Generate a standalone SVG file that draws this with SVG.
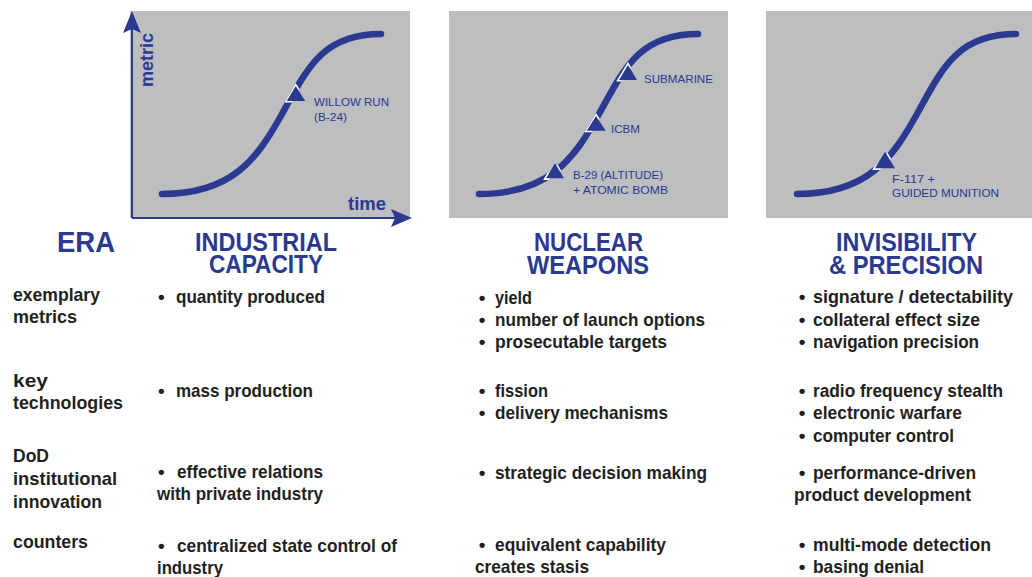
<svg xmlns="http://www.w3.org/2000/svg" xmlns:xlink="http://www.w3.org/1999/xlink" width="1032" height="577" viewBox="0 0 1032 577">
<style>
text{font-family:"Liberation Sans",Arial,sans-serif}
.bg{fill:#BCBEC0}
.crv{fill:none;stroke:#2B3990;stroke-width:6.5;stroke-linecap:round}
.gap{fill:none;stroke:#ffffff;stroke-width:3.2;stroke-linejoin:miter}
.tri{fill:#2B3990}
.pl{font-size:11.5px;fill:#2B3990}
.ax{font-size:19px;font-weight:bold;fill:#2B3990}
.axl{stroke:#2B3990;stroke-width:2;fill:none}
.axh{fill:#2B3990}
.hd{font-size:25px;font-weight:bold;fill:#2B3990}
.era{font-size:30px;font-weight:bold;fill:#2B3990}
.rl{font-size:19px;font-weight:bold;fill:#231F20}
.bt{font-size:19px;font-weight:bold;fill:#231F20}
</style>
<defs>
<path id="curve" d="M0,0 C70,0 95,-35 120,-80 C145,-125 160,-160 219,-160"/>
<mask id="mk" maskUnits="userSpaceOnUse" x="-20" y="-200" width="270" height="230">
<use xlink:href="#curve" fill="none" stroke="#ffffff" stroke-width="6.5" stroke-linecap="round"/>
</mask>
</defs>

<g id="panel-industrial">
<rect class="bg" x="130" y="11" width="280" height="207"/>
<g transform="translate(162,194)">
<use xlink:href="#curve" class="crv"/>
<polygon class="gap" mask="url(#mk)" points="133.7,-108 124.7,-93 143.3,-93"/>
<polygon class="tri" points="133.7,-108 124.7,-93 143.3,-93"/>
</g>
<text class="pl"><tspan x="314" y="106" textLength="75" lengthAdjust="spacingAndGlyphs">WILLOW RUN</tspan><tspan x="314" y="121" textLength="33" lengthAdjust="spacingAndGlyphs">(B-24)</tspan></text>
</g>

<g id="axes">
<path class="axl" d="M132,218 V28 M132,218 H398"/>
<polygon class="axh" points="132,11 141,33 132,29 123,33"/>
<polygon class="axh" points="412,218 391,227 395,218 391,209"/>
<text class="ax" transform="translate(153,87) rotate(-90)" font-size="18" textLength="54" lengthAdjust="spacingAndGlyphs">metric</text>
<text class="ax" x="348" y="210" textLength="38" lengthAdjust="spacingAndGlyphs">time</text>
</g>

<g id="panel-nuclear">
<rect class="bg" x="449" y="11" width="279" height="207"/>
<g transform="translate(479,194)">
<use xlink:href="#curve" class="crv"/>
<polygon class="gap" mask="url(#mk)" points="76,-30.7 67,-15.7 85,-15.7"/>
<polygon class="tri" points="76,-30.7 67,-15.7 85,-15.7"/>
<polygon class="gap" mask="url(#mk)" points="117,-78 107.7,-63.3 126.7,-63.3"/>
<polygon class="tri" points="117,-78 107.7,-63.3 126.7,-63.3"/>
<polygon class="gap" mask="url(#mk)" points="149,-129 140,-114 158,-114"/>
<polygon class="tri" points="149,-129 140,-114 158,-114"/>
</g>
<text class="pl" x="644" y="83" textLength="69" lengthAdjust="spacingAndGlyphs">SUBMARINE</text>
<text class="pl" x="611" y="133" textLength="29" lengthAdjust="spacingAndGlyphs">ICBM</text>
<text class="pl"><tspan x="573" y="179" textLength="90" lengthAdjust="spacingAndGlyphs">B-29 (ALTITUDE)</tspan><tspan x="573" y="194" textLength="95" lengthAdjust="spacingAndGlyphs">+ ATOMIC BOMB</tspan></text>
</g>

<g id="panel-invisibility">
<rect class="bg" x="766" y="11" width="266" height="207"/>
<g transform="translate(797,194)">
<use xlink:href="#curve" class="crv"/>
<polygon class="gap" mask="url(#mk)" points="88,-42.3 78,-25.7 98,-25.7"/>
<polygon class="tri" points="88,-42.3 78,-25.7 98,-25.7"/>
</g>
<text class="pl"><tspan x="892" y="183" textLength="43" lengthAdjust="spacingAndGlyphs">F-117 +</tspan><tspan x="892" y="197" textLength="107" lengthAdjust="spacingAndGlyphs">GUIDED MUNITION</tspan></text>
</g>

<g id="headings">
<text class="era" x="57" y="252" textLength="58" lengthAdjust="spacingAndGlyphs">ERA</text>
<text class="hd"><tspan x="195" y="251" textLength="142" lengthAdjust="spacingAndGlyphs">INDUSTRIAL</tspan><tspan x="209" y="273" textLength="114" lengthAdjust="spacingAndGlyphs">CAPACITY</tspan></text>
<text class="hd"><tspan x="534" y="251" textLength="109" lengthAdjust="spacingAndGlyphs">NUCLEAR</tspan><tspan x="527" y="274" textLength="122" lengthAdjust="spacingAndGlyphs">WEAPONS</tspan></text>
<text class="hd"><tspan x="836" y="251" textLength="141" lengthAdjust="spacingAndGlyphs">INVISIBILITY</tspan><tspan x="829" y="274" textLength="154" lengthAdjust="spacingAndGlyphs">&amp; PRECISION</tspan></text>
</g>

<g id="row-labels">
<text class="rl" x="13" y="301" textLength="87" lengthAdjust="spacingAndGlyphs">exemplary</text>
<text class="rl" x="13" y="323" textLength="64" lengthAdjust="spacingAndGlyphs">metrics</text>
<text class="rl" x="13" y="387" textLength="35" lengthAdjust="spacingAndGlyphs">key</text>
<text class="rl" x="13" y="409" textLength="110" lengthAdjust="spacingAndGlyphs">technologies</text>
<text class="rl" x="13" y="462" textLength="36" lengthAdjust="spacingAndGlyphs">DoD</text>
<text class="rl" x="13" y="485" textLength="104" lengthAdjust="spacingAndGlyphs">institutional</text>
<text class="rl" x="13" y="508" textLength="89" lengthAdjust="spacingAndGlyphs">innovation</text>
<text class="rl" x="13" y="548" textLength="75" lengthAdjust="spacingAndGlyphs">counters</text>
</g>

<g id="col-industrial">
<text class="bt" x="158" y="303">•</text>
<text class="bt" x="176" y="303" textLength="149" lengthAdjust="spacingAndGlyphs">quantity produced</text>
<text class="bt" x="158" y="397">•</text>
<text class="bt" x="176" y="397" textLength="137" lengthAdjust="spacingAndGlyphs">mass production</text>
<text class="bt" x="158" y="478">•</text>
<text class="bt" x="177" y="478" textLength="146" lengthAdjust="spacingAndGlyphs">effective relations</text>
<text class="bt" x="157" y="500" textLength="166" lengthAdjust="spacingAndGlyphs">with private industry</text>
<text class="bt" x="158" y="552">•</text>
<text class="bt" x="177" y="552" textLength="220" lengthAdjust="spacingAndGlyphs">centralized state control of</text>
<text class="bt" x="157" y="574" textLength="66" lengthAdjust="spacingAndGlyphs">industry</text>
</g>

<g id="col-nuclear">
<text class="bt" x="478.7" y="304">•</text>
<text class="bt" x="495" y="304" textLength="37" lengthAdjust="spacingAndGlyphs">yield</text>
<text class="bt" x="478.7" y="326">•</text>
<text class="bt" x="495" y="326" textLength="210" lengthAdjust="spacingAndGlyphs">number of launch options</text>
<text class="bt" x="478.7" y="348">•</text>
<text class="bt" x="495" y="348" textLength="172" lengthAdjust="spacingAndGlyphs">prosecutable targets</text>
<text class="bt" x="478.7" y="397">•</text>
<text class="bt" x="495" y="397" textLength="53" lengthAdjust="spacingAndGlyphs">fission</text>
<text class="bt" x="478.7" y="419">•</text>
<text class="bt" x="495" y="419" textLength="173" lengthAdjust="spacingAndGlyphs">delivery mechanisms</text>
<text class="bt" x="478.7" y="479">•</text>
<text class="bt" x="495" y="479" textLength="212" lengthAdjust="spacingAndGlyphs">strategic decision making</text>
<text class="bt" x="478.7" y="551">•</text>
<text class="bt" x="495" y="551" textLength="171" lengthAdjust="spacingAndGlyphs">equivalent capability</text>
<text class="bt" x="475" y="573" textLength="114" lengthAdjust="spacingAndGlyphs">creates stasis</text>
</g>

<g id="col-invisibility">
<text class="bt" x="798.7" y="303">•</text>
<text class="bt" x="813" y="303" textLength="200" lengthAdjust="spacingAndGlyphs">signature / detectability</text>
<text class="bt" x="798.7" y="326">•</text>
<text class="bt" x="813" y="326" textLength="167" lengthAdjust="spacingAndGlyphs">collateral effect size</text>
<text class="bt" x="798.7" y="348">•</text>
<text class="bt" x="813" y="348" textLength="166" lengthAdjust="spacingAndGlyphs">navigation precision</text>
<text class="bt" x="798.7" y="397">•</text>
<text class="bt" x="813" y="397" textLength="190" lengthAdjust="spacingAndGlyphs">radio frequency stealth</text>
<text class="bt" x="798.7" y="419">•</text>
<text class="bt" x="813" y="419" textLength="149" lengthAdjust="spacingAndGlyphs">electronic warfare</text>
<text class="bt" x="798.7" y="442">•</text>
<text class="bt" x="813" y="442" textLength="141" lengthAdjust="spacingAndGlyphs">computer control</text>
<text class="bt" x="798.7" y="479">•</text>
<text class="bt" x="813" y="479" textLength="163" lengthAdjust="spacingAndGlyphs">performance-driven</text>
<text class="bt" x="794" y="501" textLength="177" lengthAdjust="spacingAndGlyphs">product development</text>
<text class="bt" x="798.7" y="551">•</text>
<text class="bt" x="813" y="551" textLength="178" lengthAdjust="spacingAndGlyphs">multi-mode detection</text>
<text class="bt" x="798.7" y="573">•</text>
<text class="bt" x="813" y="573" textLength="111" lengthAdjust="spacingAndGlyphs">basing denial</text>
</g>
</svg>
